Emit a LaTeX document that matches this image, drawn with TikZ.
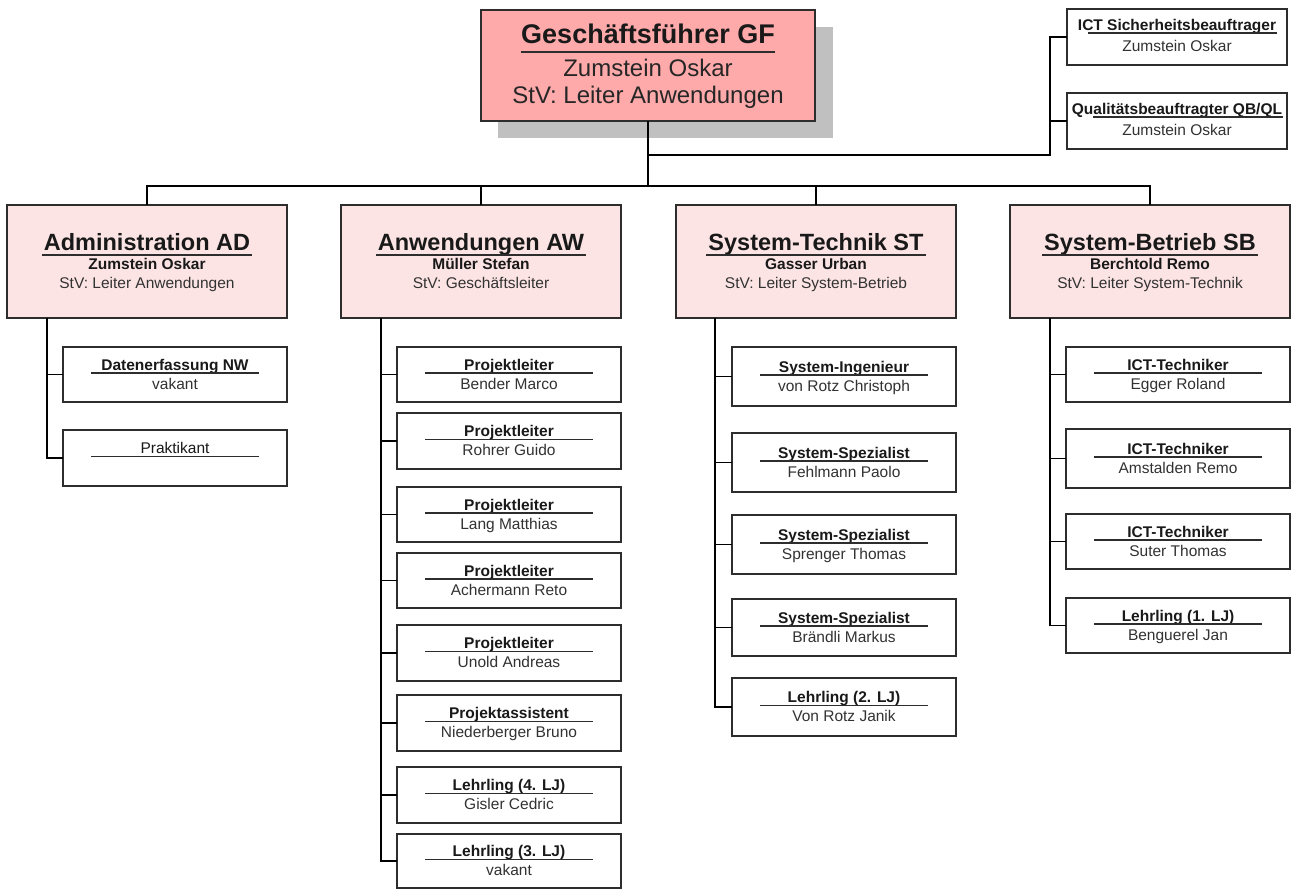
\documentclass[tikz,border=0pt]{standalone}
\usepackage{fontspec}
\setmainfont{Liberation Sans}
\usetikzlibrary{calc}
\definecolor{gfpink}{RGB}{255,170,170}
\definecolor{deptpink}{RGB}{252,228,228}
\definecolor{shadowgray}{RGB}{192,192,192}
\definecolor{edge}{RGB}{45,45,45}
\definecolor{txtgray}{RGB}{50,50,50}
\newcommand\cb[6]{%
  \node[cbox, minimum height=#4pt, anchor=north west] (#1) at (#2,#3) {};
  \node[ttl] (#1t) at ($(#1.center)+(0,-4.5)$) {#5};
  \node[nm] (#1n) at ($(#1.center)+(0,14.5)$) {#6};
  \draw[rl] ($(#1.center)+(-84,-1.5)$) -- ($(#1.center)+(84,-1.5)$);
}
\newcommand\db[5]{%
  \node[dbox] (#1) at (#2,205) {};
  \node[dttl] (#1t) at ($(#1.center)+(0,-11.5)$) {#3};
  \node[ttl] (#1n) at ($(#1.center)+(0,7.5)$) {#4};
  \node[nm] (#1s) at ($(#1.center)+(0,26.5)$) {#5};
  \draw[rl] ([xshift=-2pt,yshift=-5pt]#1t.base west) -- ([xshift=2pt,yshift=-5pt]#1t.base east);
}
\begin{document}
\begin{tikzpicture}[x=1pt,y=-1pt,
  bx/.style={draw=edge, line width=1.3pt, rectangle, inner sep=0pt, outer sep=0pt},
  cbox/.style={bx, fill=white, minimum width=224pt},
  dbox/.style={bx, fill=deptpink, minimum width=280pt, minimum height=113pt, anchor=north west},
  ttl/.style={inner sep=0pt, anchor=base, font=\fontsize{15.5}{18}\selectfont\bfseries, text=black!90},
  nm/.style={inner sep=0pt, anchor=base, font=\fontsize{15.5}{18}\selectfont, text=txtgray},
  dttl/.style={inner sep=0pt, anchor=base, font=\fontsize{23.5}{26}\selectfont\bfseries, text=black!90},
  gttl/.style={inner sep=0pt, anchor=base, font=\fontsize{27}{30}\selectfont\bfseries, text=black!90},
  gnm/.style={inner sep=0pt, anchor=base, font=\fontsize{24}{28}\selectfont, text=black!85},
  rl/.style={draw=edge, line width=1.3pt},
  conn/.style={draw=black, line width=1.5pt},
]
\useasboundingbox[fill=white] (0,0) rectangle (1291,889);

% Geschaeftsfuehrer
\fill[shadowgray] (498,27) rectangle (833,138);
\node[bx, fill=gfpink, minimum width=334pt, minimum height=111pt, anchor=north west] (GF) at (481,10) {};
\node[gttl] (GFt) at ($(GF.center)+(0,-22.5)$) {Geschäftsführer GF};
\draw[rl] ([yshift=-9pt]GFt.base west) -- ([yshift=-9pt]GFt.base east);
\node[gnm] (GFn) at ($(GF.center)+(0,10.5)$) {Zumstein Oskar};
\node[gnm] (GFs) at ($(GF.center)+(0,37.5)$) {StV: Leiter Anwendungen};

% staff boxes
\node[bx, fill=white, minimum width=220pt, minimum height=56pt, anchor=north west] (ICT) at (1067,9) {};
\node[ttl] (ICTt) at ($(ICT.center)+(0,-7)$) {ICT Sicherheitsbeauftrager};
\draw[rl] ($(ICT.center)+(-89,-4)$) -- ($(ICT.center)+(100,-4)$);
\node[nm] (ICTn) at ($(ICT.center)+(0,14)$) {Zumstein Oskar};

\node[bx, fill=white, minimum width=220pt, minimum height=56pt, anchor=north west] (QB) at (1067,93) {};
\node[ttl] (QBt) at ($(QB.center)+(0,-7)$) {Qualitätsbeauftragter QB/QL};
\draw[rl] ($(QB.center)+(-84,-4)$) -- ($(QB.center)+(106,-4)$);
\node[nm] (QBn) at ($(QB.center)+(0,14)$) {Zumstein Oskar};

% departments
\db{AD}{7}{Administration AD}{Zumstein Oskar}{StV: Leiter Anwendungen}
\db{AW}{341}{Anwendungen AW}{Müller Stefan}{StV: Geschäftsleiter}
\db{ST}{676}{System-Technik ST}{Gasser Urban}{StV: Leiter System-Betrieb}
\db{SB}{1010}{System-Betrieb SB}{Berchtold Remo}{StV: Leiter System-Technik}

% connectors top
\coordinate (bar) at (648,186);
\coordinate (rb) at (1050,155);
\draw[conn] (GF.south) -- (bar);
\draw[conn] (GF.south |- rb) -- (rb) |- (ICT.west);
\draw[conn] (QB.west) -- (QB.west -| rb);
\draw[conn] (AD.north) |- (bar) -| (SB.north);
\draw[conn] (AW.north) -- (AW.north |- bar);
\draw[conn] (ST.north) -- (ST.north |- bar);

% Administration children
\cb{ad1}{63}{347}{55}{Datenerfassung NW}{vakant}
\cb{ad2}{63}{430}{56}{\mdseries Praktikant}{}
\coordinate (ADsp) at ($(AD.south west)+(40,0)$);
\draw[conn] (ADsp) |- (ad2.west);
\draw[conn] (ad1.west) -- (ad1.west -| ADsp);

% Anwendungen children
\cb{aw1}{397}{347}{55}{Projektleiter}{Bender Marco}
\cb{aw2}{397}{413}{56}{Projektleiter}{Rohrer Guido}
\cb{aw3}{397}{487}{55}{Projektleiter}{Lang Matthias}
\cb{aw4}{397}{553}{55}{Projektleiter}{Achermann Reto}
\cb{aw5}{397}{625}{56}{Projektleiter}{Unold Andreas}
\cb{aw6}{397}{695}{56}{Projektassistent}{Niederberger Bruno}
\cb{aw7}{397}{767}{56}{Lehrling (4. LJ)}{Gisler Cedric}
\cb{aw8}{397}{834}{54}{Lehrling (3. LJ)}{vakant}
\coordinate (AWsp) at ($(AW.south west)+(40,0)$);
\draw[conn] (AWsp) |- (aw8.west);
\foreach \i in {1,...,7} {\draw[conn] (aw\i.west) -- (aw\i.west -| AWsp);}

% System-Technik children
\cb{st1}{732}{347}{59}{System-Ingenieur}{von Rotz Christoph}
\cb{st2}{732}{433}{59}{System-Spezialist}{Fehlmann Paolo}
\cb{st3}{732}{515}{59}{System-Spezialist}{Sprenger Thomas}
\cb{st4}{732}{599}{57}{System-Spezialist}{Brändli Markus}
\cb{st5}{732}{678}{58}{Lehrling (2. LJ)}{Von Rotz Janik}
\coordinate (STsp) at ($(ST.south west)+(39,0)$);
\draw[conn] (STsp) |- (st5.west);
\foreach \i in {1,...,4} {\draw[conn] (st\i.west) -- (st\i.west -| STsp);}

% System-Betrieb children
\cb{sb1}{1066}{347}{55}{ICT-Techniker}{Egger Roland}
\cb{sb2}{1066}{429}{59}{ICT-Techniker}{Amstalden Remo}
\cb{sb3}{1066}{514}{55}{ICT-Techniker}{Suter Thomas}
\cb{sb4}{1066}{598}{55}{Lehrling (1. LJ)}{Benguerel Jan}
\coordinate (SBsp) at ($(SB.south west)+(40,0)$);
\draw[conn] (SBsp) |- (sb4.west);
\foreach \i in {1,...,3} {\draw[conn] (sb\i.west) -- (sb\i.west -| SBsp);}
\end{tikzpicture}
\end{document}
